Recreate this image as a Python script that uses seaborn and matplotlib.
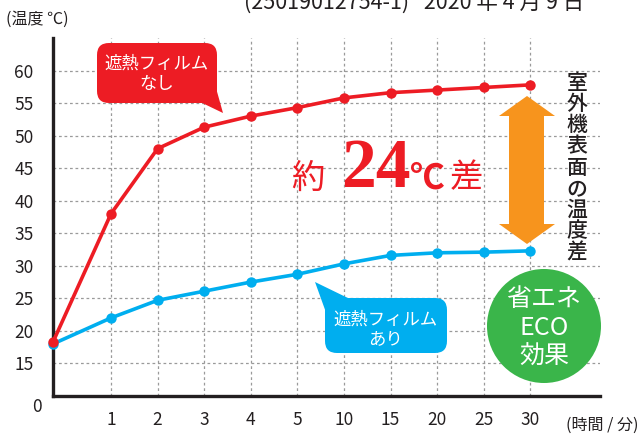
import matplotlib
matplotlib.use("Agg")
import matplotlib.pyplot as plt
from matplotlib.patches import FancyBboxPatch, Polygon, Ellipse
import seaborn as sns
import numpy as np
import pandas as pd

# data
minutes = [0, 1, 2, 3, 4, 5, 10, 15, 20, 25, 30]
no_film = [18.3, 38.0, 48.0, 51.3, 53.0, 54.3, 55.8, 56.6, 57.0, 57.4, 57.8]
with_film = [18.0, 22.0, 24.7, 26.1, 27.5, 28.7, 30.3, 31.6, 32.0, 32.1, 32.3]
y_ticks = [15, 20, 25, 30, 35, 40, 45, 50, 55, 60]
series_names = ["遮熱フィルムなし", "遮熱フィルムあり"]

RED = "#ed1c24"
BLUE = "#00aeef"
ORANGE = "#f7941d"
GREEN = "#3ab54a"
INK = "#231f20"

sns.set_style("white")
plt.rcParams["font.family"] = ["Noto Sans CJK JP", "DejaVu Sans"]

# categorical x axis: time 0 sits on the spine, the rest are evenly spaced
first_gap = 1.245
pos = [0.0] + [first_gap + i for i in range(len(minutes) - 1)]

df = pd.DataFrame({
    "pos": pos * 2,
    "temp": no_film + with_film,
    "series": [series_names[0]] * len(minutes) + [series_names[1]] * len(minutes),
})

W, H = 644, 434
fig = plt.figure(figsize=(W / 100, H / 100), dpi=100)
ax = fig.add_axes([53 / W, 38 / H, (600 - 53) / W, (396 - 38) / H])

sns.lineplot(ax=ax, data=df, x="pos", y="temp", hue="series",
             hue_order=[series_names[1], series_names[0]],
             palette={series_names[0]: RED, series_names[1]: BLUE},
             marker="o", markersize=7.5, markeredgewidth=0, linewidth=2.6,
             sort=False, legend=False, zorder=4)
for ln in ax.lines:
    ln.set_clip_on(False)

ax.set_xlim(0, 11.74)
ax.set_ylim(10, 65)
ax.set_xticks(pos[1:])
ax.set_xticklabels([str(m) for m in minutes[1:]])
ax.set_yticks(y_ticks)
ax.set_yticklabels([str(v) for v in y_ticks])
ax.set_xlabel("")
ax.set_ylabel("")
ax.grid(True, color="#9a9a9a", linestyle=(0, (2.2, 2.2)), linewidth=0.9)
ax.set_axisbelow(True)
for s in ["top", "right"]:
    ax.spines[s].set_visible(False)
for s in ["left", "bottom"]:
    ax.spines[s].set_color(INK)
    ax.spines[s].set_linewidth(2.4)
ax.tick_params(axis="y", direction="out", length=9, width=1.0, color=INK,
               pad=5, labelsize=12.5, labelcolor=INK)
ax.tick_params(axis="x", direction="out", length=9, width=1.0, color="#555555",
               pad=2, labelsize=12.5, labelcolor=INK)

# overlay in pixel coordinates for the decorations
ov = fig.add_axes([0, 0, 1, 1], zorder=5)
ov.set_xlim(0, W)
ov.set_ylim(H, 0)
ov.axis("off")
ov.patch.set_alpha(0)

ov.text(37, 407, "0", ha="center", va="center", fontsize=12.5, color=INK)
ov.text(6, 19, "(温度 ℃)", ha="left", va="center", fontsize=11.5, color=INK)
ov.text(566, 425, "(時間 / 分)", ha="left", va="center", fontsize=11.5, color=INK)
# title line, cut by the top edge as in the source image
ov.text(414, 9, "(25019012754-1)   2020 年 4 月 9 日", ha="center", va="baseline",
        fontsize=15.5, color=INK)

# red callout
ov.add_patch(Polygon([(196, 100), (216, 88), (223, 113)], closed=True,
                     facecolor=RED, edgecolor="none"))
ov.add_patch(FancyBboxPatch((104, 50), 106, 46, boxstyle="round,pad=7,rounding_size=12",
                            facecolor=RED, edgecolor="none"))
ov.text(157, 64, "遮熱フィルム", ha="center", va="center", fontsize=12.5, color="white")
ov.text(157, 84, "なし", ha="center", va="center", fontsize=12.5, color="white")

# blue callout
ov.add_patch(Polygon([(315, 282), (352, 300), (328, 318)], closed=True,
                     facecolor=BLUE, edgecolor="none"))
ov.add_patch(FancyBboxPatch((332, 305), 108, 41, boxstyle="round,pad=7,rounding_size=12",
                            facecolor=BLUE, edgecolor="none"))
ov.text(386, 320, "遮熱フィルム", ha="center", va="center", fontsize=12.5, color="white")
ov.text(386, 339, "あり", ha="center", va="center", fontsize=12.5, color="white")

# "about 24 degrees difference"
ov.text(308, 178, "約", ha="center", va="center", fontsize=24, color=RED)
ov.text(376, 170, "24", ha="center", va="center", fontsize=50, color=RED,
        family="Liberation Serif", weight="bold")
ov.text(426, 178, "℃", ha="center", va="center", fontsize=25, color=RED, weight="bold")
ov.text(466, 178, "差", ha="center", va="center", fontsize=24, color=RED)

# orange double arrow
ov.add_patch(Polygon([(509, 116), (499, 116), (527, 96), (555, 116), (544, 116),
                      (544, 224), (555, 224), (527, 244), (499, 224), (509, 224)],
                     closed=True, facecolor=ORANGE, edgecolor="none"))

# vertical caption
for i, ch in enumerate("室外機表面の温度差"):
    ov.text(577, 83 + 21.2 * i, ch, ha="center", va="center", fontsize=15,
            color=INK, weight="medium")

# green badge
ov.add_patch(Ellipse((544, 326), 114, 114, facecolor=GREEN, edgecolor="none"))
for txt, y in zip(["省エネ", "ECO", "効果"], [299, 328, 357]):
    ov.text(544, y, txt, ha="center", va="center", fontsize=18, color="white")

fig.savefig("out.png", dpi=100, facecolor="white")
